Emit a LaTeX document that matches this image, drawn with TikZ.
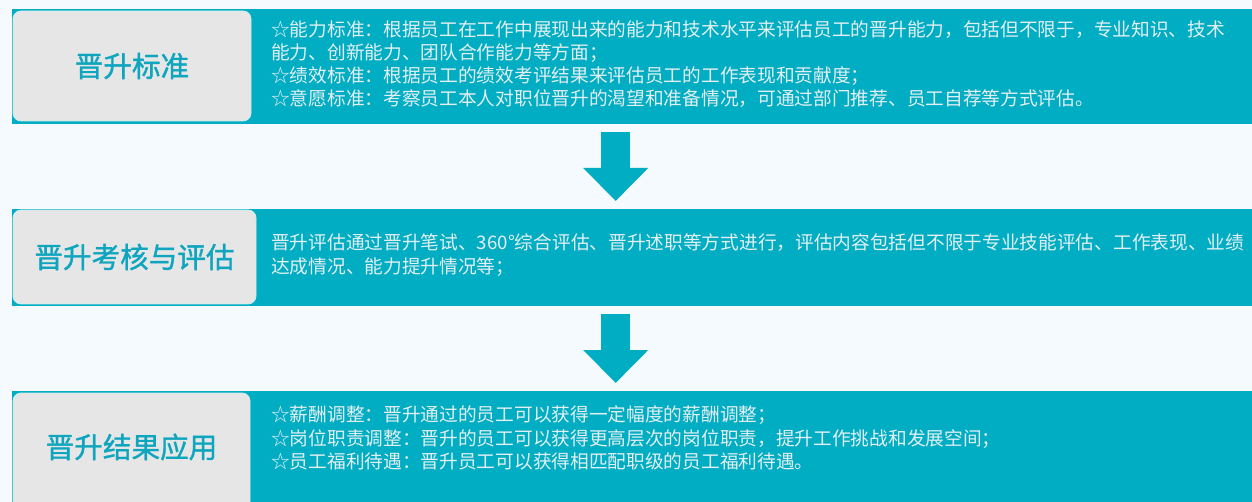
\documentclass[tikz,border=0pt]{standalone}
\usepackage{fontspec}
\setmainfont{Noto Sans CJK SC}
\newfontfamily\titlefont[FakeBold=1.2]{Noto Sans CJK SC}
\usetikzlibrary{arrows.meta}
\definecolor{bandcol}{HTML}{00ADC3}
\definecolor{boxcol}{HTML}{E6E6E6}
\definecolor{titlecol}{HTML}{0EA5BE}
\definecolor{txtcol}{HTML}{E3EFF2}
\definecolor{bgcol}{HTML}{F4FAFD}
\begin{document}
\begin{tikzpicture}[x=1pt,y=-1pt,line join=round,
	band/.style={fill=bandcol,inner sep=0pt,anchor=north west,minimum width=1240pt},
	titlebox/.style={fill=boxcol,draw=boxcol!60!bandcol!40,line width=0.8pt,rounded corners=8pt,
		text=titlecol,font=\titlefont\fontsize{28.6}{30}\selectfont,inner sep=0pt},
	desc/.style={text=txtcol,font=\fontsize{18.7}{23.2}\selectfont,align=left,anchor=west,inner sep=0pt},
	bigarrow/.style={draw=bandcol,line width=29pt,-{Triangle[width=63pt,length=33pt]}}]
				\fill[bgcol] (0,0) rectangle (1252,502);
				\clip (0,0) rectangle (1252,502);
				% bands
				\node[band,minimum height=115pt] (band1) at (12,9) {};
				\node[band,minimum height=97pt] (band2) at (12,209) {};
				\node[band,minimum height=130pt] (band3) at (12,391) {};
				% left boxes
				\node[titlebox,minimum width=238pt,minimum height=110pt] (t1) at (132,66) {晋升标准};
				\node[titlebox,minimum width=243pt,minimum height=94pt] (t2) at (134.5,257) {晋升考核与评估};
				\node[titlebox,minimum width=237pt,minimum height=120pt] (t3) at (131.5,453) {};
				\node[text=titlecol,font=\titlefont\fontsize{28.6}{30}\selectfont] (t3txt) at (131.5,447) {晋升结果应用};
				% texts
				\node[desc] (d1) at (271,64) {☆能力标准：根据员工在工作中展现出来的能力和技术水平来评估员工的晋升能力，包括但不限于，专业知识、技术\\
					能力、创新能力、团队合作能力等方面；\\
					☆绩效标准：根据员工的绩效考评结果来评估员工的工作表现和贡献度；\\
					☆意愿标准：考察员工本人对职位晋升的渴望和准备情况，可通过部门推荐、员工自荐等方式评估。};
				\node[desc] (d2) at (271,255) {晋升评估通过晋升笔试、360°综合评估、晋升述职等方式进行，评估内容包括但不限于专业技能评估、工作表现、业绩\\
					达成情况、能力提升情况等；};
				\node[desc] (d3) at (271,438) {☆薪酬调整：晋升通过的员工可以获得一定幅度的薪酬调整；\\
					☆岗位职责调整：晋升的员工可以获得更高层次的岗位职责，提升工作挑战和发展空间；\\
					☆员工福利待遇：晋升员工可以获得相匹配职级的员工福利待遇。};
				% arrows
				\draw[bigarrow] ([xshift=-16.5pt,yshift=-7.7pt]band1.south) -- ([xshift=-16.5pt,yshift=8pt]band2.north);
				\draw[bigarrow] ([xshift=-16.5pt,yshift=-7.3pt]band2.south) -- ([xshift=-16.5pt,yshift=8pt]band3.north);
			\end{tikzpicture}
\end{document}
